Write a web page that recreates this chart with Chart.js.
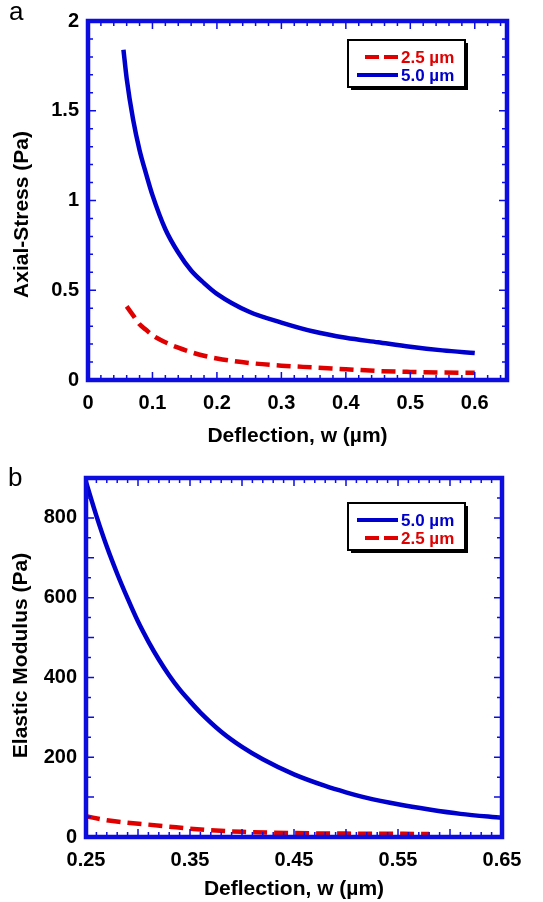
<!DOCTYPE html>
<html>
<head>
<meta charset="utf-8">
<script src="https://cdn.jsdelivr.net/npm/chart.js@4/dist/chart.umd.min.js"></script>
<style>
  body { margin: 0; background: #fff; }
  .panel { position: relative; width: 543px; }
  .tag { position: absolute; font: 26px "Liberation Sans", Arial, sans-serif; color: #000; }
  canvas { display: block; }
</style>
</head>
<body>
<div class="panel" style="height:450px">
  <div class="tag" style="left:9px;top:-4px">a</div>
  <canvas id="stressChart" width="543" height="450"></canvas>
</div>
<div class="panel" style="height:452px">
  <div class="tag" style="left:8px;top:12px">b</div>
  <canvas id="modulusChart" width="543" height="452"></canvas>
</div>
<script>
// data

// (a) axial stress vs deflection
const stressW25 = [0.06, 0.07, 0.08, 0.09, 0.10, 0.12, 0.14, 0.16, 0.18, 0.20, 0.25, 0.30, 0.35, 0.40, 0.45, 0.50, 0.55, 0.60];
const stress25 = [0.41, 0.36, 0.31, 0.28, 0.25, 0.21, 0.18, 0.155, 0.135, 0.12, 0.095, 0.08, 0.07, 0.06, 0.05, 0.045, 0.042, 0.04];
const stressW50 = [0.055, 0.06, 0.07, 0.08, 0.09, 0.10, 0.12, 0.14, 0.16, 0.18, 0.20, 0.25, 0.30, 0.35, 0.40, 0.45, 0.50, 0.55, 0.60];
const stress50 = [1.84, 1.68, 1.45, 1.28, 1.15, 1.03, 0.84, 0.71, 0.61, 0.54, 0.48, 0.38, 0.32, 0.27, 0.235, 0.21, 0.185, 0.165, 0.15];
const stressXTicks = [0, 0.1, 0.2, 0.3, 0.4, 0.5, 0.6];
const stressYTicks = [0, 0.5, 1, 1.5, 2];

// (b) elastic modulus vs deflection
const modW50 = [0.25, 0.26, 0.27, 0.28, 0.29, 0.30, 0.31, 0.32, 0.33, 0.34, 0.35, 0.36, 0.38, 0.40, 0.42, 0.45, 0.48, 0.50, 0.52, 0.55, 0.58, 0.61, 0.65];
const mod50 = [890, 805, 728, 660, 598, 540, 490, 445, 405, 370, 340, 312, 264, 226, 195, 157, 128, 112, 98, 82, 69, 58, 48];
const modW25 = [0.25, 0.27, 0.29, 0.31, 0.33, 0.35, 0.37, 0.40, 0.43, 0.47, 0.50, 0.55, 0.58];
const mod25 = [52, 42, 36, 31, 26, 21, 17, 13, 11, 9, 8.5, 8, 7.5];
const modXTicks = [0.25, 0.35, 0.45, 0.55, 0.65];
const modYTicks = [0, 200, 400, 600, 800];

const labels = ['2.5 µm', '5.0 µm'];
const BLUE = '#0000cc';
const FRAME = '#0d0de0';
const RED = '#e00000';
const FONT = '"Liberation Sans", Arial, sans-serif';

const toPoints = (xs, ys) => xs.map((x, i) => ({ x, y: ys[i] }));

// blue box with inward ticks on every side, plus the rotated y title
const framePlugin = {
  id: 'frame',
  afterDatasetsDraw(chart, args, opts) {
    const { ctx, chartArea: a, scales } = chart;
    ctx.save();
    ctx.strokeStyle = FRAME;
    ctx.lineWidth = 1.5;
    const marks = (scale, step, major) => {
      const out = [];
      const n = Math.round((scale.max - scale.min) / step);
      for (let i = 1; i < n; i++) {
        const v = scale.min + i * step;
        const r = v / major;
        out.push({ p: scale.getPixelForValue(v), big: Math.abs(r - Math.round(r)) < 1e-6 });
      }
      return out;
    };
    ctx.beginPath();
    marks(scales.x, opts.xStep, opts.xMajor).forEach(({ p, big }) => {
      const l = big ? 8 : 5;
      ctx.moveTo(p, a.bottom); ctx.lineTo(p, a.bottom - l);
      ctx.moveTo(p, a.top); ctx.lineTo(p, a.top + l);
    });
    marks(scales.y, opts.yStep, opts.yMajor).forEach(({ p, big }) => {
      const l = big ? 8 : 5;
      ctx.moveTo(a.left, p); ctx.lineTo(a.left + l, p);
      ctx.moveTo(a.right, p); ctx.lineTo(a.right - l, p);
    });
    ctx.stroke();
    ctx.lineWidth = 4.5;
    ctx.strokeRect(a.left, a.top, a.right - a.left, a.bottom - a.top);

    // y title
    ctx.translate(opts.titleX, (a.top + a.bottom) / 2 + opts.titleShift);
    ctx.rotate(-Math.PI / 2);
    ctx.fillStyle = '#000';
    ctx.font = 'bold 21px ' + FONT;
    ctx.textAlign = 'center';
    ctx.textBaseline = 'middle';
    ctx.fillText(opts.title, 0, 0);
    ctx.restore();
  }
};

// framed legend box with a drop shadow
const boxLegend = {
  id: 'boxLegend',
  afterDraw(chart, args, opts) {
    const { ctx, chartArea: a } = chart;
    const x0 = a.right - opts.right - opts.width;
    const y0 = a.top + opts.top;
    ctx.save();
    ctx.fillStyle = '#000';
    ctx.fillRect(x0 + 3, y0 + 3, opts.width, opts.height);
    ctx.fillStyle = '#fff';
    ctx.fillRect(x0, y0, opts.width, opts.height);
    ctx.strokeStyle = '#000';
    ctx.lineWidth = 2;
    ctx.strokeRect(x0, y0, opts.width, opts.height);
    chart.data.datasets.forEach((ds, i) => {
      const yy = y0 + 17 + i * 18;
      const dashed = ds.borderDash && ds.borderDash.length;
      ctx.strokeStyle = ds.borderColor;
      ctx.lineWidth = 4;
      ctx.setLineDash(dashed ? [14, 5] : []);
      ctx.beginPath();
      ctx.moveTo(x0 + (dashed ? 17 : 9), yy);
      ctx.lineTo(x0 + 50, yy);
      ctx.stroke();
      ctx.setLineDash([]);
      ctx.fillStyle = ds.borderColor;
      ctx.font = 'bold 17px ' + FONT;
      ctx.textAlign = 'left';
      ctx.textBaseline = 'middle';
      ctx.fillText(ds.label, x0 + 53, yy + 1);
    });
    ctx.restore();
  }
};

const lineSet = (label, data, color, dashed) => ({
  label,
  data,
  borderColor: color,
  backgroundColor: color,
  borderWidth: 4.5,
  borderDash: dashed ? [14, 7] : [],
  pointRadius: 0,
  cubicInterpolationMode: 'monotone',
  fill: false
});

const makeChart = (el, datasets, cfg) => new Chart(el, {
  type: 'line',
  data: { datasets },
  plugins: [framePlugin, boxLegend],
  options: {
    responsive: false,
    animation: false,
    layout: { padding: cfg.padding },
    plugins: {
      legend: { display: false },
      tooltip: { enabled: false },
      frame: cfg.frame,
      boxLegend: cfg.legend
    },
    scales: {
      x: {
        type: 'linear',
        min: cfg.xMin, max: cfg.xMax,
        afterBuildTicks: (s) => { s.ticks = cfg.xTicks.map((v) => ({ value: v })); },
        afterFit: (s) => { s.height = cfg.xHeight; },
        grid: { display: false, drawTicks: false },
        border: { display: false },
        ticks: {
          padding: 11, color: '#000', maxRotation: 0, autoSkip: false,
          font: { family: FONT, size: 20, weight: 'bold' },
          callback: (v) => String(v)
        },
        title: {
          display: true, text: 'Deflection, w (µm)', color: '#000',
          font: { family: FONT, size: 21, weight: 'bold' },
          padding: { top: 0, bottom: cfg.xTitlePad }
        }
      },
      y: {
        min: cfg.yMin, max: cfg.yMax,
        afterBuildTicks: (s) => { s.ticks = cfg.yTicks.map((v) => ({ value: v })); },
        afterFit: (s) => { s.width = cfg.yWidth; },
        grid: { display: false, drawTicks: false },
        border: { display: false },
        ticks: {
          padding: 9, color: '#000', autoSkip: false,
          font: { family: FONT, size: 20, weight: 'bold' },
          callback: (v) => String(v)
        },
        title: { display: false }
      }
    }
  }
});

makeChart(document.getElementById('stressChart'), [
  lineSet(labels[0], toPoints(stressW25, stress25), RED, true),
  lineSet(labels[1], toPoints(stressW50, stress50), BLUE, false)
], {
  padding: { top: 19, right: 36, bottom: 0, left: 0 },
  xMin: 0, xMax: 0.65, yMin: 0, yMax: 2,
  xTicks: stressXTicks, yTicks: stressYTicks,
  xHeight: 70, yWidth: 88, xTitlePad: 1,
  frame: { xStep: 0.02, xMajor: 0.1, yStep: 0.1, yMajor: 0.5, title: 'Axial-Stress (Pa)', titleX: 22, titleShift: 14 },
  legend: { right: 42, top: 19, width: 117, height: 47 }
});

makeChart(document.getElementById('modulusChart'), [
  lineSet(labels[1], toPoints(modW50, mod50), BLUE, false),
  lineSet(labels[0], toPoints(modW25, mod25), RED, true)
], {
  padding: { top: 28, right: 41, bottom: 0, left: 0 },
  xMin: 0.25, xMax: 0.65, yMin: 0, yMax: 900,
  xTicks: modXTicks, yTicks: modYTicks,
  xHeight: 65, yWidth: 86, xTitlePad: 0,
  frame: { xStep: 0.01, xMajor: 0.05, yStep: 50, yMajor: 100, title: 'Elastic Modulus (Pa)', titleX: 21, titleShift: -2 },
  legend: { right: 37, top: 25, width: 117, height: 47 }
});
</script>
</body>
</html>
